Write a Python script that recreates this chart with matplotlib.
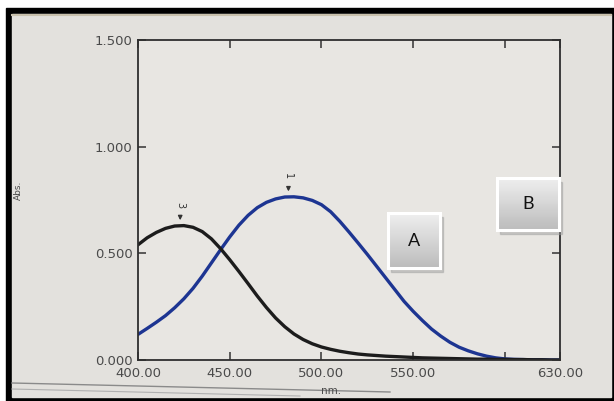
import numpy as np
import matplotlib
matplotlib.use("Agg")
import matplotlib.pyplot as plt
from matplotlib.patches import Rectangle
from matplotlib.lines import Line2D
from matplotlib.colors import LinearSegmentedColormap

# Wavelength grid (nm) and absorbance readings for both scans
wavelength = [400, 405, 410, 415, 420, 425, 430, 435, 440, 445,
              450, 455, 460, 465, 470, 475, 480, 485, 490, 495,
              500, 505, 510, 515, 520, 525, 530, 535, 540, 545,
              550, 555, 560, 565, 570, 575, 580, 585, 590, 595,
              600, 605, 610, 615, 620, 625, 630]

abs_scan1 = [0.120, 0.148, 0.177, 0.208, 0.245, 0.287, 0.336, 0.393, 0.455, 0.517,
             0.577, 0.632, 0.678, 0.714, 0.739, 0.755, 0.764, 0.765, 0.760, 0.748,
             0.728, 0.695, 0.650, 0.600, 0.548, 0.495, 0.440, 0.385, 0.330, 0.275,
             0.228, 0.185, 0.145, 0.112, 0.083, 0.060, 0.043, 0.029, 0.018, 0.010,
             0.005, 0.003, 0.002, 0.001, 0.001, 0.000, 0.000]

abs_scan3 = [0.540, 0.573, 0.598, 0.617, 0.628, 0.630, 0.622, 0.602, 0.568, 0.522,
             0.470, 0.415, 0.358, 0.300, 0.246, 0.197, 0.156, 0.122, 0.096, 0.076,
             0.061, 0.050, 0.041, 0.034, 0.028, 0.024, 0.021, 0.018, 0.016, 0.014,
             0.012, 0.010, 0.009, 0.008, 0.007, 0.006, 0.005, 0.004, 0.004, 0.003,
             0.003, 0.002, 0.002, 0.001, 0.001, 0.000, 0.000]

# Peak markers: (label, wavelength, absorbance)
peaks = [("1", 482, 0.765), ("3", 423, 0.630)]

y_ticks = [0.0, 0.5, 1.0, 1.5]
y_labels = ["0.000", "0.500", "1.000", "1.500"]
x_ticks = [400, 450, 500, 550, 600, 630]
x_labels = ["400.00", "450.00", "500.00", "550.00", "", "630.00"]

W, H = 614, 401
BG = "#e3e1dd"
PANEL = "#e8e6e2"
TEXT = "#4a4a4a"


def px(x0, y_top, w, h):
    # pixel box (top-left origin) -> figure fraction rect
    return [x0 / W, 1 - (y_top + h) / H, w / W, h / H]


def draw_frame(fig):
    # black monitor bezel with the light screen inside
    fig.add_artist(Rectangle((6 / W, 0), 1 - 6 / W, (H - 8) / H,
                             transform=fig.transFigure, color="black", zorder=0))
    fig.add_artist(Rectangle((12 / W, 4 / H), 599 / W, (397 - 14) / H,
                             transform=fig.transFigure, color=BG, zorder=0.1))
    fig.add_artist(Line2D([12 / W, 611 / W], [1 - 15 / H, 1 - 15 / H],
                          transform=fig.transFigure, color="#c9c1ad", lw=1.5, zorder=0.2))
    # window edges running across the bottom of the screen
    fig.add_artist(Line2D([12 / W, 390 / W], [1 - 383 / H, 1 - 392 / H],
                          transform=fig.transFigure, color="#8a8a8a", lw=1.0, zorder=0.2))
    fig.add_artist(Line2D([12 / W, 300 / W], [1 - 389 / H, 1 - 396 / H],
                          transform=fig.transFigure, color="#b0b0b0", lw=0.8, zorder=0.2))


def draw_box(fig, rect, letter):
    x0, y_top, w, h = rect
    # soft drop shadow
    fig.add_artist(Rectangle(((x0 + 3) / W, 1 - (y_top + h + 4) / H), w / W, h / H,
                             transform=fig.transFigure, color="#9c9c9c", alpha=0.45, zorder=5))
    bax = fig.add_axes(px(x0, y_top, w, h), zorder=6)
    cmap = LinearSegmentedColormap.from_list("box", ["#efefef", "#bcbcbc"])
    grad = np.linspace(0, 1, 64).reshape(-1, 1)
    bax.imshow(grad, cmap=cmap, aspect="auto", extent=[0, 1, 0, 1], origin="upper")
    bax.set_xticks([])
    bax.set_yticks([])
    for s in bax.spines.values():
        s.set_color("white")
        s.set_linewidth(2.2)
    bax.text(0.5, 0.5, letter, ha="center", va="center", fontsize=13,
             family=["Lato", "DejaVu Sans"], color="#111111", transform=bax.transAxes)


def plot_spectrum():
    fig = plt.figure(figsize=(W / 100, H / 100), dpi=100)
    fig.patch.set_facecolor("white")
    draw_frame(fig)

    ax = fig.add_axes(px(138, 40, 422, 320), zorder=2)
    ax.set_facecolor(PANEL)

    ax.plot(wavelength, abs_scan1, color="#1d3592", lw=2.4,
            solid_capstyle="round", solid_joinstyle="round")
    ax.plot(wavelength, abs_scan3, color="#1c1c1c", lw=2.4,
            solid_capstyle="round", solid_joinstyle="round")

    for label, x, y in peaks:
        ax.annotate("", xy=(x, y + 0.012), xytext=(x, y + 0.06),
                    arrowprops=dict(arrowstyle="-|>", color="#333333", lw=1.0,
                                    mutation_scale=6))
        ax.text(x, y + 0.095, label, rotation=-90, ha="center", va="center",
                fontsize=7, color="#333333")

    ax.set_xlim(400, 630)
    ax.set_ylim(0, 1.5)
    ax.set_xticks(x_ticks)
    ax.set_xticklabels(x_labels)
    ax.set_yticks(y_ticks)
    ax.set_yticklabels(y_labels)
    ax.tick_params(direction="in", length=6, width=1.1, color="#333333",
                   top=True, right=True, labelsize=9.5, labelcolor=TEXT)
    ax.tick_params(axis="x", pad=5)
    ax.tick_params(axis="y", pad=4)
    for s in ax.spines.values():
        s.set_color("#2e2e2e")
        s.set_linewidth(1.3)

    ax.text(505, -0.145, "nm.", ha="center", va="center", fontsize=7.5,
            color=TEXT, clip_on=False)
    fig.text(18 / W, 1 - 190 / H, "Abs.", rotation=90, ha="center", va="center",
             fontsize=6.5, color=TEXT)

    draw_box(fig, (388, 213, 52, 55), "A")
    draw_box(fig, (497, 178, 62, 52), "B")

    fig.savefig("out.png", dpi=100, facecolor=fig.get_facecolor())


if __name__ == "__main__":
    plot_spectrum()
